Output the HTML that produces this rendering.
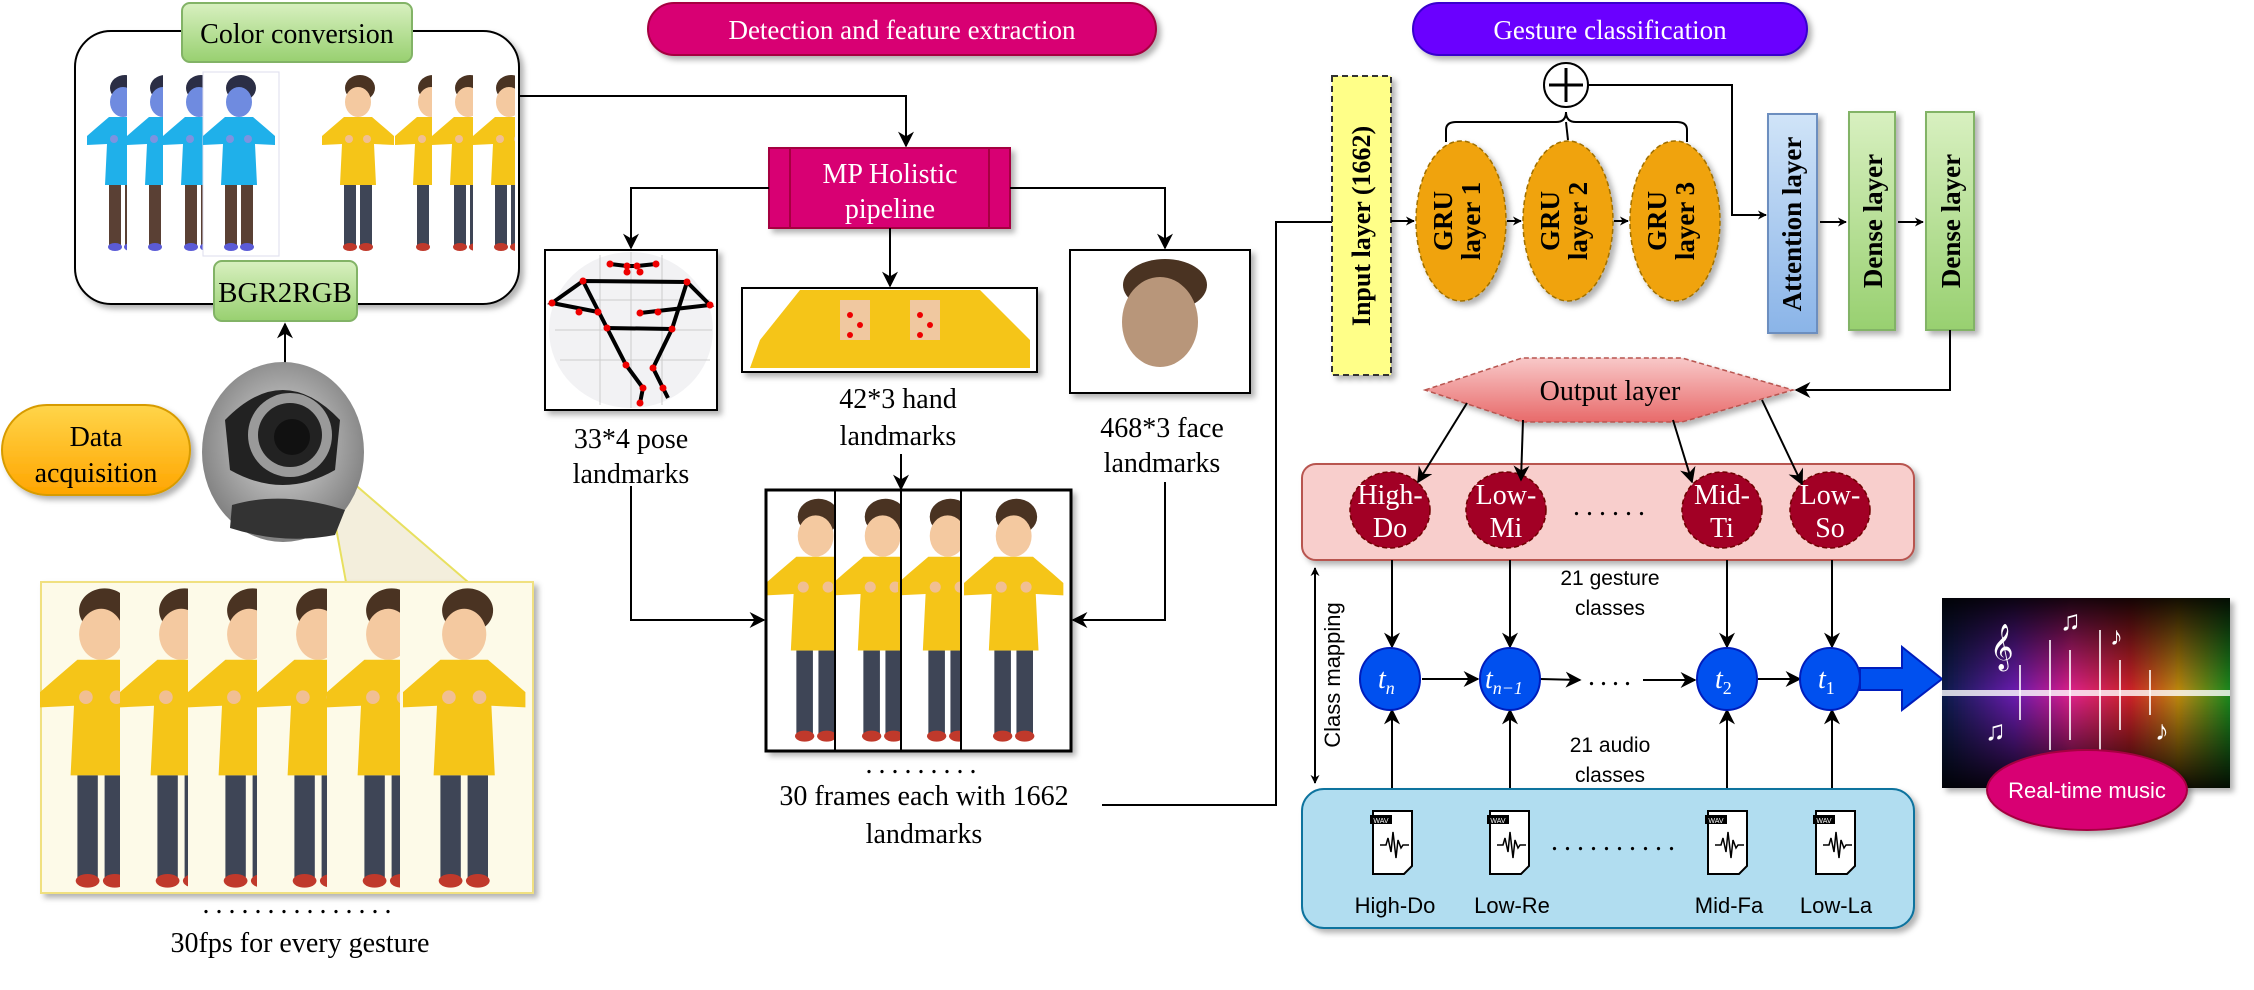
<!DOCTYPE html>
<html><head><meta charset="utf-8"><style>
html,body{margin:0;padding:0;background:#fff;}
svg{display:block;}
.sf{font-family:"Liberation Serif",serif;}
.ss{font-family:"Liberation Sans",sans-serif;}
</style></head><body>
<svg width="2254" height="990" viewBox="0 0 2254 990" xmlns="http://www.w3.org/2000/svg">
<defs>
<marker id="ar" viewBox="0 0 10 10" refX="9" refY="5" markerWidth="9" markerHeight="9" orient="auto-start-reverse" markerUnits="userSpaceOnUse"><path d="M0,0 L10,5 L0,10 L3,5 z" fill="#000"/></marker>
<marker id="ar2" viewBox="0 0 10 10" refX="9" refY="5" markerWidth="16" markerHeight="16" orient="auto-start-reverse" markerUnits="userSpaceOnUse"><path d="M0,0 L10,5 L0,10 L3,5 z" fill="#000"/></marker>
<filter id="sh" x="-10%" y="-10%" width="130%" height="130%"><feDropShadow dx="4" dy="4" stdDeviation="3" flood-color="#000" flood-opacity="0.3"/></filter>
<clipPath id="ccclip"><rect x="80" y="60" width="435" height="200"/></clipPath>
<g id="fy">
 <ellipse cx="38" cy="15" rx="15" ry="13" fill="#4a3322"/>
 <ellipse cx="36" cy="29" rx="13" ry="15" fill="#f4c9a0"/>
 <polygon points="22,44 50,44 64,56 72,63 72,72 52,71 54,112 18,112 20,71 0,72 0,63 8,56" fill="#f5c518"/>
 <circle cx="27" cy="66" r="4" fill="#f1bf93"/><circle cx="45" cy="66" r="4" fill="#f1bf93"/>
 <rect x="22" y="112" width="12" height="60" fill="#3e4556"/><rect x="38" y="112" width="12" height="60" fill="#3e4556"/>
 <ellipse cx="28" cy="174" rx="7" ry="4" fill="#c0392b"/><ellipse cx="44" cy="174" rx="7" ry="4" fill="#c0392b"/>
</g>
<g id="fb">
 <ellipse cx="38" cy="15" rx="15" ry="13" fill="#2b2e45"/>
 <ellipse cx="36" cy="29" rx="13" ry="15" fill="#6f8be0"/>
 <polygon points="22,44 50,44 64,56 72,63 72,72 52,71 54,112 18,112 20,71 0,72 0,63 8,56" fill="#1fb0ea"/>
 <circle cx="27" cy="66" r="4" fill="#7d93e0"/><circle cx="45" cy="66" r="4" fill="#7d93e0"/>
 <rect x="22" y="112" width="12" height="60" fill="#5a4034"/><rect x="38" y="112" width="12" height="60" fill="#5a4034"/>
 <ellipse cx="28" cy="174" rx="7" ry="4" fill="#5b5bd6"/><ellipse cx="44" cy="174" rx="7" ry="4" fill="#5b5bd6"/>
</g>
<linearGradient id="rb" x1="0" x2="1" y1="0" y2="0">
 <stop offset="0" stop-color="#0a1a4a"/><stop offset="0.25" stop-color="#6a1ab0"/><stop offset="0.45" stop-color="#e0208a"/><stop offset="0.65" stop-color="#d0202a"/><stop offset="0.82" stop-color="#c08a10"/><stop offset="1" stop-color="#1a8a20"/>
</linearGradient>
<linearGradient id="vf" x1="0" x2="0" y1="0" y2="1">
 <stop offset="0" stop-color="#000" stop-opacity="0.9"/><stop offset="0.5" stop-color="#000" stop-opacity="0"/><stop offset="1" stop-color="#000" stop-opacity="0.9"/>
</linearGradient>
<radialGradient id="cam" cx="0.5" cy="0.45" r="0.6"><stop offset="0" stop-color="#ddd"/><stop offset="1" stop-color="#777"/></radialGradient>
<linearGradient id="outg" x1="0" x2="0" y1="0" y2="1"><stop offset="0" stop-color="#f8c8c8"/><stop offset="1" stop-color="#e86a6a"/></linearGradient>
<linearGradient id="grn" x1="0" x2="0" y1="0" y2="1"><stop offset="0" stop-color="#d8f0c0"/><stop offset="1" stop-color="#98d070"/></linearGradient>
<linearGradient id="blu" x1="0" x2="0" y1="0" y2="1"><stop offset="0" stop-color="#d0e4f8"/><stop offset="1" stop-color="#8ab4e8"/></linearGradient>
<linearGradient id="org" x1="0" x2="0" y1="0" y2="1"><stop offset="0" stop-color="#ffd54a"/><stop offset="1" stop-color="#ffa500"/></linearGradient>
</defs>

<!-- Color conversion box -->
<rect x="75" y="31" width="444" height="273" rx="36" fill="#fff" stroke="#000" stroke-width="2" filter="url(#sh)"/>
<g clip-path="url(#ccclip)">
<use href="#fb" transform="translate(87,73)"/>
<rect x="127" y="72" width="160" height="184" fill="#fff"/>
<use href="#fb" transform="translate(127,73)"/>
<rect x="163" y="72" width="120" height="184" fill="#fff"/>
<use href="#fb" transform="translate(163,73)"/>
<rect x="203" y="72" width="76" height="184" fill="#fff" stroke="#dde" stroke-width="1"/>
<use href="#fb" transform="translate(203,73)"/>
<use href="#fy" transform="translate(322,73)"/>
<rect x="395" y="72" width="120" height="184" fill="#fff"/>
<use href="#fy" transform="translate(395,73)"/>
<rect x="432" y="72" width="84" height="184" fill="#fff"/>
<use href="#fy" transform="translate(432,73)"/>
<rect x="473" y="72" width="44" height="184" fill="#fff"/>
<use href="#fy" transform="translate(473,73)"/>
</g>
<rect x="182" y="3" width="230" height="59" rx="8" fill="url(#grn)" stroke="#82b366" stroke-width="2"/>
<text x="297" y="43" text-anchor="middle" class="sf" font-size="28">Color conversion</text>
<rect x="214" y="261" width="143" height="60" rx="8" fill="url(#grn)" stroke="#82b366" stroke-width="2"/>
<text x="285" y="302" text-anchor="middle" class="sf" font-size="29">BGR2RGB</text>

<!-- webcam -->
<line x1="285" y1="366" x2="285" y2="324" stroke="#000" stroke-width="2" marker-end="url(#ar2)"/>
<polygon points="323,457 346,582 468,582" fill="#f3eedc" stroke="#e8e060" stroke-width="2"/>
<ellipse cx="283" cy="452" rx="81" ry="90" fill="url(#cam)"/>
<path d="M225,420 Q283,360 340,420 L335,470 Q283,500 230,470 Z" fill="#222"/>
<circle cx="290" cy="435" r="42" fill="#9a9a9a"/>
<circle cx="290" cy="435" r="32" fill="#222"/>
<circle cx="292" cy="437" r="18" fill="#111"/>
<path d="M232,505 Q283,490 345,510 L335,535 Q283,545 230,528 Z" fill="#333"/>

<!-- data acquisition -->
<rect x="2" y="405" width="188" height="90" rx="45" fill="url(#org)" stroke="#d79b00" stroke-width="2" filter="url(#sh)"/>
<text x="96" y="446" text-anchor="middle" class="sf" font-size="28">Data</text>
<text x="96" y="482" text-anchor="middle" class="sf" font-size="28">acquisition</text>

<!-- bottom frames -->
<rect x="41" y="582" width="492" height="311" fill="#fdfae8" stroke="#f0e080" stroke-width="2" filter="url(#sh)"/>
<g transform="translate(40,585) scale(1.7)"><use href="#fy"/></g>
<rect x="120" y="583" width="412" height="309" fill="#fdfae8"/>
<g transform="translate(120,585) scale(1.7)"><use href="#fy"/></g>
<rect x="188" y="583" width="344" height="309" fill="#fdfae8"/>
<g transform="translate(188,585) scale(1.7)"><use href="#fy"/></g>
<rect x="257" y="583" width="275" height="309" fill="#fdfae8"/>
<g transform="translate(257,585) scale(1.7)"><use href="#fy"/></g>
<rect x="327" y="583" width="205" height="309" fill="#fdfae8"/>
<g transform="translate(327,585) scale(1.7)"><use href="#fy"/></g>
<rect x="400" y="583" width="132" height="309" fill="#fdfae8"/>
<g transform="translate(403,585) scale(1.7)"><use href="#fy"/></g>
<text x="300" y="913" text-anchor="middle" class="sf" font-size="28" letter-spacing="6">...............</text>
<text x="300" y="952" text-anchor="middle" class="sf" font-size="28">30fps for every gesture</text>

<!-- Detection title -->
<rect x="648" y="3" width="508" height="52" rx="26" fill="#d80073" stroke="#a50040" stroke-width="2" filter="url(#sh)"/>
<text x="902" y="39" text-anchor="middle" class="sf" font-size="27" fill="#fff">Detection and feature extraction</text>

<polyline points="519,96 906,96 906,146" fill="none" stroke="#000" stroke-width="2" marker-end="url(#ar2)"/>
<rect x="769" y="148" width="241" height="80" fill="#d80073" stroke="#a50040" stroke-width="2" filter="url(#sh)"/>
<line x1="790" y1="148" x2="790" y2="228" stroke="#a50040" stroke-width="2"/>
<line x1="989" y1="148" x2="989" y2="228" stroke="#a50040" stroke-width="2"/>
<text x="890" y="183" text-anchor="middle" class="sf" font-size="28" fill="#fff">MP Holistic</text>
<text x="890" y="218" text-anchor="middle" class="sf" font-size="28" fill="#fff">pipeline</text>
<polyline points="769,188 631,188 631,248" fill="none" stroke="#000" stroke-width="2" marker-end="url(#ar2)"/>
<polyline points="1010,188 1165,188 1165,248" fill="none" stroke="#000" stroke-width="2" marker-end="url(#ar2)"/>
<line x1="890" y1="228" x2="890" y2="286" stroke="#000" stroke-width="2" marker-end="url(#ar2)"/>

<!-- pose image -->
<rect x="545" y="250" width="172" height="160" fill="#fff" stroke="#000" stroke-width="2" filter="url(#sh)"/>
<ellipse cx="631" cy="330" rx="82" ry="78" fill="#f2f2f4"/>
<g stroke="#ccc" stroke-width="1"><line x1="560" y1="300" x2="710" y2="300"/><line x1="555" y1="330" x2="712" y2="330"/><line x1="560" y1="360" x2="710" y2="360"/><line x1="600" y1="255" x2="600" y2="405"/><line x1="631" y1="252" x2="631" y2="408"/><line x1="662" y1="255" x2="662" y2="405"/></g>
<g stroke="#000" stroke-width="4" fill="none">
<polyline points="610,264 627,266 637,266 656,264"/>
<polyline points="598,312 552,303 583,281 687,282 710,305 640,313"/>
<polyline points="583,281 607,328 626,365 643,388 640,403"/>
<polyline points="687,282 672,329 653,368 663,388 668,398"/>
<line x1="607" y1="328" x2="672" y2="329"/>
</g>
<g fill="#e00"><circle cx="610" cy="264" r="3.5"/><circle cx="627" cy="266" r="3.5"/><circle cx="637" cy="266" r="3.5"/><circle cx="656" cy="264" r="3.5"/><circle cx="627" cy="272" r="3.5"/><circle cx="640" cy="272" r="3.5"/><circle cx="583" cy="281" r="3.5"/><circle cx="687" cy="282" r="3.5"/><circle cx="552" cy="303" r="3.5"/><circle cx="710" cy="305" r="3.5"/><circle cx="598" cy="312" r="3.5"/><circle cx="579" cy="312" r="3.5"/><circle cx="640" cy="313" r="3.5"/><circle cx="658" cy="312" r="3.5"/><circle cx="607" cy="328" r="3.5"/><circle cx="672" cy="329" r="3.5"/><circle cx="626" cy="365" r="3.5"/><circle cx="653" cy="368" r="3.5"/><circle cx="643" cy="388" r="3.5"/><circle cx="663" cy="388" r="3.5"/><circle cx="640" cy="403" r="3.5"/></g>
<text x="631" y="448" text-anchor="middle" class="sf" font-size="28">33*4 pose</text>
<text x="631" y="483" text-anchor="middle" class="sf" font-size="28">landmarks</text>

<!-- hand image -->
<rect x="742" y="288" width="295" height="84" fill="#fff" stroke="#000" stroke-width="2" filter="url(#sh)"/>
<polygon points="760,340 800,290 980,290 1030,340 1030,368 750,368" fill="#f5c518"/>
<rect x="840" y="300" width="30" height="40" fill="#f0c8a0"/><rect x="910" y="300" width="30" height="40" fill="#f0c8a0"/>
<g fill="#e00"><circle cx="850" cy="315" r="3"/><circle cx="860" cy="325" r="3"/><circle cx="850" cy="335" r="3"/><circle cx="920" cy="315" r="3"/><circle cx="930" cy="325" r="3"/><circle cx="920" cy="335" r="3"/></g>
<text x="898" y="408" text-anchor="middle" class="sf" font-size="28">42*3 hand</text>
<text x="898" y="445" text-anchor="middle" class="sf" font-size="28">landmarks</text>
<line x1="901" y1="454" x2="901" y2="489" stroke="#000" stroke-width="2" marker-end="url(#ar2)"/>

<!-- face image -->
<rect x="1070" y="250" width="180" height="143" fill="#fff" stroke="#000" stroke-width="2" filter="url(#sh)"/>
<ellipse cx="1165" cy="285" rx="42" ry="26" fill="#4a3322"/>
<ellipse cx="1160" cy="322" rx="38" ry="45" fill="#b8967a"/>
<text x="1162" y="437" text-anchor="middle" class="sf" font-size="28">468*3 face</text>
<text x="1162" y="472" text-anchor="middle" class="sf" font-size="28">landmarks</text>

<!-- frames box -->
<polyline points="631,486 631,620 764,620" fill="none" stroke="#000" stroke-width="2" marker-end="url(#ar2)"/>
<polyline points="1165,482 1165,620 1073,620" fill="none" stroke="#000" stroke-width="2" marker-end="url(#ar2)"/>
<rect x="766" y="490" width="305" height="261" fill="#fff" stroke="#000" stroke-width="2" filter="url(#sh)"/>
<g transform="translate(766,496) scale(1.38)"><use href="#fy"/></g>
<rect x="835" y="491" width="235" height="259" fill="#fff"/>
<g transform="translate(833,496) scale(1.38)"><use href="#fy"/></g>
<rect x="901" y="491" width="169" height="259" fill="#fff"/>
<g transform="translate(898,496) scale(1.38)"><use href="#fy"/></g>
<rect x="961" y="491" width="109" height="259" fill="#fff"/>
<g transform="translate(964,496) scale(1.38)"><use href="#fy"/></g>
<g stroke="#000" stroke-width="2"><line x1="835" y1="490" x2="835" y2="751"/><line x1="901" y1="490" x2="901" y2="751"/><line x1="961" y1="490" x2="961" y2="751"/></g>
<rect x="766" y="490" width="305" height="261" fill="none" stroke="#000" stroke-width="3"/>
<text x="924" y="773" text-anchor="middle" class="sf" font-size="28" letter-spacing="6">.........</text>
<text x="924" y="805" text-anchor="middle" class="sf" font-size="28">30 frames each with 1662</text>
<text x="924" y="843" text-anchor="middle" class="sf" font-size="28">landmarks</text>
<polyline points="1102,805 1276,805 1276,222 1332,222" fill="none" stroke="#000" stroke-width="2"/>

<!-- Gesture classification -->
<rect x="1413" y="3" width="394" height="52" rx="26" fill="#6a00ff" stroke="#3700cc" stroke-width="2" filter="url(#sh)"/>
<text x="1610" y="39" text-anchor="middle" class="sf" font-size="27" fill="#fff">Gesture classification</text>

<rect x="1332" y="76" width="59" height="299" fill="#ffff88" stroke="#333" stroke-width="2" stroke-dasharray="6,4" filter="url(#sh)"/>
<text transform="translate(1370,226) rotate(-90)" text-anchor="middle" class="sf" font-size="26" font-weight="bold">Input layer (1662)</text>
<line x1="1391" y1="221" x2="1414" y2="221" stroke="#000" stroke-width="2" marker-end="url(#ar)"/>
<line x1="1507" y1="221" x2="1521" y2="221" stroke="#000" stroke-width="2" marker-end="url(#ar)"/>
<line x1="1614" y1="221" x2="1628" y2="221" stroke="#000" stroke-width="2" marker-end="url(#ar)"/>
<g fill="#f0a30a" stroke="#a07000" stroke-width="1.5" stroke-dasharray="5,3" filter="url(#sh)">
<ellipse cx="1461" cy="221" rx="45" ry="80"/><ellipse cx="1568" cy="221" rx="45" ry="80"/><ellipse cx="1675" cy="221" rx="45" ry="80"/></g>
<g class="sf" font-size="27" font-weight="bold" text-anchor="middle">
<text transform="translate(1452,221) rotate(-90)">GRU</text><text transform="translate(1480,221) rotate(-90)">layer 1</text>
<text transform="translate(1559,221) rotate(-90)">GRU</text><text transform="translate(1587,221) rotate(-90)">layer 2</text>
<text transform="translate(1666,221) rotate(-90)">GRU</text><text transform="translate(1694,221) rotate(-90)">layer 3</text>
</g>
<path d="M1446,142 L1446,130 Q1446,122 1456,122 L1556,122 Q1566,122 1566,112 Q1566,122 1576,122 L1677,122 Q1687,122 1687,130 L1687,142" fill="none" stroke="#000" stroke-width="2"/>
<line x1="1566" y1="122" x2="1568" y2="140" stroke="#000" stroke-width="2"/>
<ellipse cx="1566" cy="85" rx="22" ry="22" fill="#fff" stroke="#000" stroke-width="2"/>
<line x1="1566" y1="68" x2="1566" y2="102" stroke="#000" stroke-width="3"/><line x1="1549" y1="85" x2="1583" y2="85" stroke="#000" stroke-width="3"/>
<polyline points="1588,85 1732,85 1732,215 1766,215" fill="none" stroke="#000" stroke-width="2" marker-end="url(#ar)"/>
<rect x="1768" y="114" width="49" height="219" fill="url(#blu)" stroke="#6c8ebf" stroke-width="2" filter="url(#sh)"/>
<text transform="translate(1801,224) rotate(-90)" text-anchor="middle" class="sf" font-size="27" font-weight="bold">Attention layer</text>
<line x1="1820" y1="222" x2="1846" y2="222" stroke="#000" stroke-width="2" marker-end="url(#ar)"/>
<rect x="1849" y="112" width="46" height="218" fill="url(#grn)" stroke="#82b366" stroke-width="2" filter="url(#sh)"/>
<text transform="translate(1882,221) rotate(-90)" text-anchor="middle" class="sf" font-size="27" font-weight="bold">Dense layer</text>
<line x1="1898" y1="222" x2="1923" y2="222" stroke="#000" stroke-width="2" marker-end="url(#ar)"/>
<rect x="1926" y="112" width="48" height="218" fill="url(#grn)" stroke="#82b366" stroke-width="2" filter="url(#sh)"/>
<text transform="translate(1960,221) rotate(-90)" text-anchor="middle" class="sf" font-size="27" font-weight="bold">Dense layer</text>
<polyline points="1950,330 1950,390 1796,390" fill="none" stroke="#000" stroke-width="2" marker-end="url(#ar2)"/>

<!-- Output layer -->
<polygon points="1425,390 1522,358 1682,358 1793,390 1682,422 1522,422" fill="url(#outg)" stroke="#b85450" stroke-width="1.5" stroke-dasharray="5,3" filter="url(#sh)"/>
<text x="1610" y="400" text-anchor="middle" class="sf" font-size="28">Output layer</text>

<!-- pink box -->
<rect x="1302" y="464" width="612" height="96" rx="14" fill="#f8cecc" stroke="#b85450" stroke-width="2" filter="url(#sh)"/>
<g fill="#a20025" stroke="#6f0000" stroke-width="1.5" stroke-dasharray="5,3">
<ellipse cx="1390" cy="510" rx="40" ry="38"/><ellipse cx="1506" cy="510" rx="40" ry="38"/><ellipse cx="1722" cy="510" rx="40" ry="38"/><ellipse cx="1830" cy="510" rx="40" ry="38"/></g>
<g stroke="#000" stroke-width="2">
<line x1="1467" y1="403" x2="1418" y2="482" marker-end="url(#ar2)"/>
<line x1="1523" y1="420" x2="1521" y2="480" marker-end="url(#ar2)"/>
<line x1="1673" y1="420" x2="1692" y2="482" marker-end="url(#ar2)"/>
<line x1="1762" y1="400" x2="1802" y2="484" marker-end="url(#ar2)"/>
</g>
<g class="sf" font-size="28" fill="#fff" text-anchor="middle">
<text x="1390" y="504">High-</text><text x="1390" y="537">Do</text>
<text x="1506" y="504">Low-</text><text x="1506" y="537">Mi</text>
<text x="1722" y="504">Mid-</text><text x="1722" y="537">Ti</text>
<text x="1830" y="504">Low-</text><text x="1830" y="537">So</text>
</g>
<text x="1612" y="515" text-anchor="middle" class="sf" font-size="28" letter-spacing="6">......</text>
<line x1="1315" y1="568" x2="1315" y2="783" stroke="#000" stroke-width="2" marker-start="url(#ar)" marker-end="url(#ar)"/>
<text transform="translate(1340,675) rotate(-90)" text-anchor="middle" class="ss" font-size="22">Class mapping</text>
<text x="1610" y="585" text-anchor="middle" class="ss" font-size="21">21 gesture</text>
<text x="1610" y="615" text-anchor="middle" class="ss" font-size="21">classes</text>
<text x="1610" y="752" text-anchor="middle" class="ss" font-size="21">21 audio</text>
<text x="1610" y="782" text-anchor="middle" class="ss" font-size="21">classes</text>

<g stroke="#000" stroke-width="2">
<line x1="1392" y1="560" x2="1392" y2="647" marker-end="url(#ar2)"/>
<line x1="1510" y1="560" x2="1510" y2="647" marker-end="url(#ar2)"/>
<line x1="1727" y1="560" x2="1727" y2="647" marker-end="url(#ar2)"/>
<line x1="1832" y1="560" x2="1832" y2="647" marker-end="url(#ar2)"/>
<line x1="1392" y1="789" x2="1392" y2="710" marker-end="url(#ar2)"/>
<line x1="1510" y1="789" x2="1510" y2="710" marker-end="url(#ar2)"/>
<line x1="1727" y1="789" x2="1727" y2="710" marker-end="url(#ar2)"/>
<line x1="1832" y1="789" x2="1832" y2="710" marker-end="url(#ar2)"/>
<line x1="1422" y1="679" x2="1478" y2="679" marker-end="url(#ar2)"/>
<line x1="1540" y1="679" x2="1580" y2="680" marker-end="url(#ar2)"/>
<line x1="1643" y1="680" x2="1695" y2="680" marker-end="url(#ar2)"/>
<line x1="1757" y1="679" x2="1800" y2="679" marker-end="url(#ar2)"/>
</g>
<text x="1612" y="685" text-anchor="middle" class="sf" font-size="28" letter-spacing="5">....</text>
<g fill="#0050ef" stroke="#001dbc" stroke-width="2">
<ellipse cx="1390" cy="679" rx="30" ry="31"/><ellipse cx="1510" cy="679" rx="30" ry="31"/><ellipse cx="1727" cy="679" rx="30" ry="31"/><ellipse cx="1830" cy="679" rx="30" ry="31"/></g>
<g class="sf" font-size="28" font-style="italic" fill="#fff">
<text x="1378" y="688">t<tspan font-size="18" dy="6">n</tspan></text>
<text x="1485" y="688">t<tspan font-size="18" dy="6">n−1</tspan></text>
<text x="1715" y="688">t<tspan font-size="18" dy="6" font-style="normal">2</tspan></text>
<text x="1818" y="688">t<tspan font-size="18" dy="6" font-style="normal">1</tspan></text>
</g>
<polygon points="1860,668 1902,668 1902,647 1942,679 1902,710 1902,690 1860,690" fill="#0050ef" stroke="#001dbc" stroke-width="2"/>

<!-- music image -->
<rect x="1942" y="598" width="288" height="190" fill="url(#rb)" filter="url(#sh)"/>
<rect x="1942" y="598" width="288" height="190" fill="url(#vf)"/>
<rect x="1942" y="690" width="288" height="6" fill="#fff" opacity="0.8"/>
<g stroke="#fff" stroke-width="2" opacity="0.8"><line x1="2050" y1="640" x2="2050" y2="750"/><line x1="2070" y1="650" x2="2070" y2="740"/><line x1="2100" y1="630" x2="2100" y2="760"/><line x1="2120" y1="660" x2="2120" y2="730"/><line x1="2020" y1="665" x2="2020" y2="720"/><line x1="2150" y1="670" x2="2150" y2="715"/></g>
<text x="1990" y="660" class="sf" font-size="40" fill="#fff">𝄞</text>
<text x="2060" y="630" class="sf" font-size="28" fill="#fff">♫</text>
<text x="2110" y="645" class="sf" font-size="26" fill="#fff">♪</text>
<text x="1985" y="740" class="sf" font-size="28" fill="#fff">♫</text>
<text x="2155" y="740" class="sf" font-size="28" fill="#fff">♪</text>
<ellipse cx="2087" cy="790" rx="100" ry="40" fill="#d80073" stroke="#a50040" stroke-width="2" filter="url(#sh)"/>
<text x="2087" y="798" text-anchor="middle" class="ss" font-size="22" fill="#fff">Real-time music</text>

<!-- blue box -->
<rect x="1302" y="789" width="612" height="139" rx="22" fill="#b1ddf0" stroke="#10739e" stroke-width="2" filter="url(#sh)"/>
<g id="wav">
<path d="M1373,811 L1412,811 L1412,866 L1404,874 L1373,874 Z" fill="#fff" stroke="#000" stroke-width="2"/>
<rect x="1370" y="815" width="22" height="9" fill="#000"/>
<text x="1381" y="823" text-anchor="middle" class="ss" font-size="7" fill="#fff">WAV</text>
<polyline points="1380,845 1386,845 1388,838 1391,852 1393,832 1396,858 1398,840 1401,848 1403,845 1409,845" fill="none" stroke="#000" stroke-width="1.5"/>
</g>
<use href="#wav" transform="translate(117,0)"/>
<use href="#wav" transform="translate(335,0)"/>
<use href="#wav" transform="translate(443,0)"/>
<text x="1616" y="850" text-anchor="middle" class="sf" font-size="28" letter-spacing="6">..........</text>
<g class="ss" font-size="22" text-anchor="middle">
<text x="1395" y="913">High-Do</text><text x="1512" y="913">Low-Re</text><text x="1729" y="913">Mid-Fa</text><text x="1836" y="913">Low-La</text></g>
</svg>
</body></html>
